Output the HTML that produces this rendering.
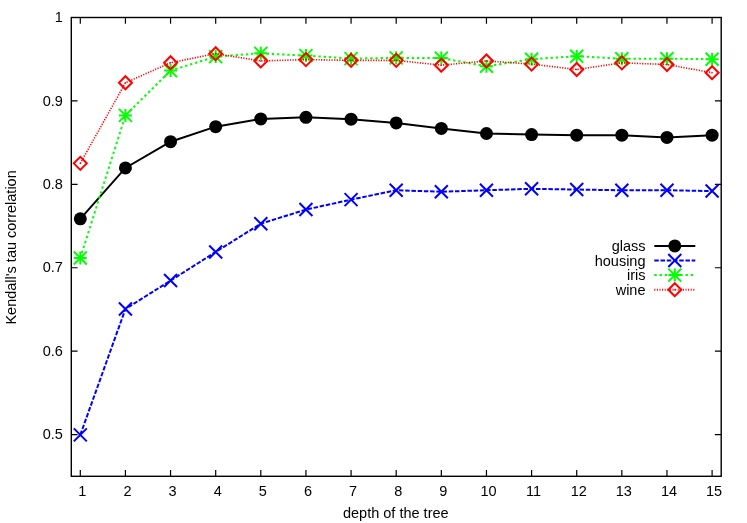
<!DOCTYPE html><html><head><meta charset="utf-8"><title>plot</title><style>html,body{margin:0;padding:0;background:#fff}svg{display:block;will-change:transform}text{font-family:"Liberation Sans",sans-serif;font-size:14.5px;fill:#000}</style></head><body>
<svg width="747" height="523" viewBox="0 0 747 523">
<rect width="747" height="523" fill="#fff"/>
<path d="M71.30 434.59H77.60M721.20 434.59H714.90M71.30 351.17H77.60M721.20 351.17H714.90M71.30 267.75H77.60M721.20 267.75H714.90M71.30 184.34H77.60M721.20 184.34H714.90M71.30 100.92H77.60M721.20 100.92H714.90M71.30 17.50H77.60M721.20 17.50H714.90M80.30 476.30V470.00M80.30 17.50V23.80M125.43 476.30V470.00M125.43 17.50V23.80M170.56 476.30V470.00M170.56 17.50V23.80M215.69 476.30V470.00M215.69 17.50V23.80M260.81 476.30V470.00M260.81 17.50V23.80M305.94 476.30V470.00M305.94 17.50V23.80M351.07 476.30V470.00M351.07 17.50V23.80M396.20 476.30V470.00M396.20 17.50V23.80M441.33 476.30V470.00M441.33 17.50V23.80M486.46 476.30V470.00M486.46 17.50V23.80M531.59 476.30V470.00M531.59 17.50V23.80M576.71 476.30V470.00M576.71 17.50V23.80M621.84 476.30V470.00M621.84 17.50V23.80M666.97 476.30V470.00M666.97 17.50V23.80M712.10 476.30V470.00M712.10 17.50V23.80" stroke="#000" stroke-width="1.20" fill="none"/>
<text x="62.9" y="439.24" text-anchor="end">0.5</text>
<text x="62.9" y="355.82" text-anchor="end">0.6</text>
<text x="62.9" y="272.40" text-anchor="end">0.7</text>
<text x="62.9" y="188.99" text-anchor="end">0.8</text>
<text x="62.9" y="105.57" text-anchor="end">0.9</text>
<text x="62.9" y="22.15" text-anchor="end">1</text>
<text x="82.30" y="496" text-anchor="middle">1</text>
<text x="127.43" y="496" text-anchor="middle">2</text>
<text x="172.56" y="496" text-anchor="middle">3</text>
<text x="217.69" y="496" text-anchor="middle">4</text>
<text x="262.81" y="496" text-anchor="middle">5</text>
<text x="307.94" y="496" text-anchor="middle">6</text>
<text x="353.07" y="496" text-anchor="middle">7</text>
<text x="398.20" y="496" text-anchor="middle">8</text>
<text x="443.33" y="496" text-anchor="middle">9</text>
<text x="488.46" y="496" text-anchor="middle">10</text>
<text x="533.59" y="496" text-anchor="middle">11</text>
<text x="578.71" y="496" text-anchor="middle">12</text>
<text x="623.84" y="496" text-anchor="middle">13</text>
<text x="668.97" y="496" text-anchor="middle">14</text>
<text x="714.10" y="496" text-anchor="middle">15</text>
<text x="395.8" y="517.9" text-anchor="middle">depth of the tree</text>
<text transform="translate(16.3 247.4) rotate(-90)" text-anchor="middle">Kendall's tau correlation</text>
<polyline points="80.30,218.84 125.43,167.95 170.56,141.68 215.69,126.66 260.81,118.90 305.94,117.32 351.07,119.15 396.20,122.91 441.33,128.41 486.46,133.50 531.59,134.59 576.71,135.17 621.84,135.17 666.97,137.42 712.10,135.17" fill="none" stroke="#000" stroke-width="2.00"/>
<circle cx="80.30" cy="218.84" r="6.50" fill="#000"/>
<circle cx="125.43" cy="167.95" r="6.50" fill="#000"/>
<circle cx="170.56" cy="141.68" r="6.50" fill="#000"/>
<circle cx="215.69" cy="126.66" r="6.50" fill="#000"/>
<circle cx="260.81" cy="118.90" r="6.50" fill="#000"/>
<circle cx="305.94" cy="117.32" r="6.50" fill="#000"/>
<circle cx="351.07" cy="119.15" r="6.50" fill="#000"/>
<circle cx="396.20" cy="122.91" r="6.50" fill="#000"/>
<circle cx="441.33" cy="128.41" r="6.50" fill="#000"/>
<circle cx="486.46" cy="133.50" r="6.50" fill="#000"/>
<circle cx="531.59" cy="134.59" r="6.50" fill="#000"/>
<circle cx="576.71" cy="135.17" r="6.50" fill="#000"/>
<circle cx="621.84" cy="135.17" r="6.50" fill="#000"/>
<circle cx="666.97" cy="137.42" r="6.50" fill="#000"/>
<circle cx="712.10" cy="135.17" r="6.50" fill="#000"/>
<polyline points="80.30,434.89 125.43,309.01 170.56,280.57 215.69,251.95 260.81,223.68 305.94,209.58 351.07,199.65 396.20,190.23 441.33,191.73 486.46,190.23 531.59,188.81 576.71,189.56 621.84,190.23 666.97,190.23 712.10,191.06" fill="none" stroke="#00f" stroke-width="2.00" stroke-dasharray="4.5 1.73"/>
<path d="M73.80 428.39L86.80 441.39M73.80 441.39L86.80 428.39" stroke="#00f" stroke-width="2.00" fill="none"/>
<path d="M118.93 302.51L131.93 315.51M118.93 315.51L131.93 302.51" stroke="#00f" stroke-width="2.00" fill="none"/>
<path d="M164.06 274.07L177.06 287.07M164.06 287.07L177.06 274.07" stroke="#00f" stroke-width="2.00" fill="none"/>
<path d="M209.19 245.45L222.19 258.45M209.19 258.45L222.19 245.45" stroke="#00f" stroke-width="2.00" fill="none"/>
<path d="M254.31 217.18L267.31 230.18M254.31 230.18L267.31 217.18" stroke="#00f" stroke-width="2.00" fill="none"/>
<path d="M299.44 203.08L312.44 216.08M299.44 216.08L312.44 203.08" stroke="#00f" stroke-width="2.00" fill="none"/>
<path d="M344.57 193.15L357.57 206.15M344.57 206.15L357.57 193.15" stroke="#00f" stroke-width="2.00" fill="none"/>
<path d="M389.70 183.73L402.70 196.73M389.70 196.73L402.70 183.73" stroke="#00f" stroke-width="2.00" fill="none"/>
<path d="M434.83 185.23L447.83 198.23M434.83 198.23L447.83 185.23" stroke="#00f" stroke-width="2.00" fill="none"/>
<path d="M479.96 183.73L492.96 196.73M479.96 196.73L492.96 183.73" stroke="#00f" stroke-width="2.00" fill="none"/>
<path d="M525.09 182.31L538.09 195.31M525.09 195.31L538.09 182.31" stroke="#00f" stroke-width="2.00" fill="none"/>
<path d="M570.21 183.06L583.21 196.06M570.21 196.06L583.21 183.06" stroke="#00f" stroke-width="2.00" fill="none"/>
<path d="M615.34 183.73L628.34 196.73M615.34 196.73L628.34 183.73" stroke="#00f" stroke-width="2.00" fill="none"/>
<path d="M660.47 183.73L673.47 196.73M660.47 196.73L673.47 183.73" stroke="#00f" stroke-width="2.00" fill="none"/>
<path d="M705.60 184.56L718.60 197.56M705.60 197.56L718.60 184.56" stroke="#00f" stroke-width="2.00" fill="none"/>
<polyline points="80.30,257.96 125.43,115.40 170.56,70.60 215.69,56.59 260.81,53.34 305.94,55.59 351.07,58.59 396.20,57.84 441.33,58.09 486.46,66.27 531.59,59.18 576.71,56.17 621.84,58.67 666.97,58.67 712.10,59.18" fill="none" stroke="#0f0" stroke-width="2.00" stroke-dasharray="2.4 2.79"/>
<path d="M73.80 251.46L86.80 264.46M73.80 264.46L86.80 251.46" stroke="#0f0" stroke-width="2.00" fill="none"/><path d="M73.80 257.96L86.80 257.96M80.30 251.46L80.30 264.46" stroke="#0f0" stroke-width="2.00" fill="none"/>
<path d="M118.93 108.90L131.93 121.90M118.93 121.90L131.93 108.90" stroke="#0f0" stroke-width="2.00" fill="none"/><path d="M118.93 115.40L131.93 115.40M125.43 108.90L125.43 121.90" stroke="#0f0" stroke-width="2.00" fill="none"/>
<path d="M164.06 64.10L177.06 77.10M164.06 77.10L177.06 64.10" stroke="#0f0" stroke-width="2.00" fill="none"/><path d="M164.06 70.60L177.06 70.60M170.56 64.10L170.56 77.10" stroke="#0f0" stroke-width="2.00" fill="none"/>
<path d="M209.19 50.09L222.19 63.09M209.19 63.09L222.19 50.09" stroke="#0f0" stroke-width="2.00" fill="none"/><path d="M209.19 56.59L222.19 56.59M215.69 50.09L215.69 63.09" stroke="#0f0" stroke-width="2.00" fill="none"/>
<path d="M254.31 46.84L267.31 59.84M254.31 59.84L267.31 46.84" stroke="#0f0" stroke-width="2.00" fill="none"/><path d="M254.31 53.34L267.31 53.34M260.81 46.84L260.81 59.84" stroke="#0f0" stroke-width="2.00" fill="none"/>
<path d="M299.44 49.09L312.44 62.09M299.44 62.09L312.44 49.09" stroke="#0f0" stroke-width="2.00" fill="none"/><path d="M299.44 55.59L312.44 55.59M305.94 49.09L305.94 62.09" stroke="#0f0" stroke-width="2.00" fill="none"/>
<path d="M344.57 52.09L357.57 65.09M344.57 65.09L357.57 52.09" stroke="#0f0" stroke-width="2.00" fill="none"/><path d="M344.57 58.59L357.57 58.59M351.07 52.09L351.07 65.09" stroke="#0f0" stroke-width="2.00" fill="none"/>
<path d="M389.70 51.34L402.70 64.34M389.70 64.34L402.70 51.34" stroke="#0f0" stroke-width="2.00" fill="none"/><path d="M389.70 57.84L402.70 57.84M396.20 51.34L396.20 64.34" stroke="#0f0" stroke-width="2.00" fill="none"/>
<path d="M434.83 51.59L447.83 64.59M434.83 64.59L447.83 51.59" stroke="#0f0" stroke-width="2.00" fill="none"/><path d="M434.83 58.09L447.83 58.09M441.33 51.59L441.33 64.59" stroke="#0f0" stroke-width="2.00" fill="none"/>
<path d="M479.96 59.77L492.96 72.77M479.96 72.77L492.96 59.77" stroke="#0f0" stroke-width="2.00" fill="none"/><path d="M479.96 66.27L492.96 66.27M486.46 59.77L486.46 72.77" stroke="#0f0" stroke-width="2.00" fill="none"/>
<path d="M525.09 52.68L538.09 65.68M525.09 65.68L538.09 52.68" stroke="#0f0" stroke-width="2.00" fill="none"/><path d="M525.09 59.18L538.09 59.18M531.59 52.68L531.59 65.68" stroke="#0f0" stroke-width="2.00" fill="none"/>
<path d="M570.21 49.67L583.21 62.67M570.21 62.67L583.21 49.67" stroke="#0f0" stroke-width="2.00" fill="none"/><path d="M570.21 56.17L583.21 56.17M576.71 49.67L576.71 62.67" stroke="#0f0" stroke-width="2.00" fill="none"/>
<path d="M615.34 52.17L628.34 65.17M615.34 65.17L628.34 52.17" stroke="#0f0" stroke-width="2.00" fill="none"/><path d="M615.34 58.67L628.34 58.67M621.84 52.17L621.84 65.17" stroke="#0f0" stroke-width="2.00" fill="none"/>
<path d="M660.47 52.17L673.47 65.17M660.47 65.17L673.47 52.17" stroke="#0f0" stroke-width="2.00" fill="none"/><path d="M660.47 58.67L673.47 58.67M666.97 52.17L666.97 65.17" stroke="#0f0" stroke-width="2.00" fill="none"/>
<path d="M705.60 52.68L718.60 65.68M705.60 65.68L718.60 52.68" stroke="#0f0" stroke-width="2.00" fill="none"/><path d="M705.60 59.18L718.60 59.18M712.10 52.68L712.10 65.68" stroke="#0f0" stroke-width="2.00" fill="none"/>
<polyline points="80.30,163.36 125.43,82.78 170.56,62.68 215.69,53.67 260.81,60.93 305.94,59.59 351.07,60.34 396.20,60.34 441.33,65.18 486.46,60.93 531.59,64.10 576.71,69.52 621.84,62.85 666.97,64.51 712.10,72.69" fill="none" stroke="#f00" stroke-width="1.60" stroke-dasharray="1.2 1.4"/>
<path d="M80.30 169.86L73.80 163.36L80.30 156.86L86.80 163.36Z" stroke="#f00" stroke-width="2.00" fill="none"/><circle cx="80.30" cy="163.36" r="0.8" fill="#f00"/>
<path d="M125.43 89.28L118.93 82.78L125.43 76.28L131.93 82.78Z" stroke="#f00" stroke-width="2.00" fill="none"/><circle cx="125.43" cy="82.78" r="0.8" fill="#f00"/>
<path d="M170.56 69.18L164.06 62.68L170.56 56.18L177.06 62.68Z" stroke="#f00" stroke-width="2.00" fill="none"/><circle cx="170.56" cy="62.68" r="0.8" fill="#f00"/>
<path d="M215.69 60.17L209.19 53.67L215.69 47.17L222.19 53.67Z" stroke="#f00" stroke-width="2.00" fill="none"/><circle cx="215.69" cy="53.67" r="0.8" fill="#f00"/>
<path d="M260.81 67.43L254.31 60.93L260.81 54.43L267.31 60.93Z" stroke="#f00" stroke-width="2.00" fill="none"/><circle cx="260.81" cy="60.93" r="0.8" fill="#f00"/>
<path d="M305.94 66.09L299.44 59.59L305.94 53.09L312.44 59.59Z" stroke="#f00" stroke-width="2.00" fill="none"/><circle cx="305.94" cy="59.59" r="0.8" fill="#f00"/>
<path d="M351.07 66.84L344.57 60.34L351.07 53.84L357.57 60.34Z" stroke="#f00" stroke-width="2.00" fill="none"/><circle cx="351.07" cy="60.34" r="0.8" fill="#f00"/>
<path d="M396.20 66.84L389.70 60.34L396.20 53.84L402.70 60.34Z" stroke="#f00" stroke-width="2.00" fill="none"/><circle cx="396.20" cy="60.34" r="0.8" fill="#f00"/>
<path d="M441.33 71.68L434.83 65.18L441.33 58.68L447.83 65.18Z" stroke="#f00" stroke-width="2.00" fill="none"/><circle cx="441.33" cy="65.18" r="0.8" fill="#f00"/>
<path d="M486.46 67.43L479.96 60.93L486.46 54.43L492.96 60.93Z" stroke="#f00" stroke-width="2.00" fill="none"/><circle cx="486.46" cy="60.93" r="0.8" fill="#f00"/>
<path d="M531.59 70.60L525.09 64.10L531.59 57.60L538.09 64.10Z" stroke="#f00" stroke-width="2.00" fill="none"/><circle cx="531.59" cy="64.10" r="0.8" fill="#f00"/>
<path d="M576.71 76.02L570.21 69.52L576.71 63.02L583.21 69.52Z" stroke="#f00" stroke-width="2.00" fill="none"/><circle cx="576.71" cy="69.52" r="0.8" fill="#f00"/>
<path d="M621.84 69.35L615.34 62.85L621.84 56.35L628.34 62.85Z" stroke="#f00" stroke-width="2.00" fill="none"/><circle cx="621.84" cy="62.85" r="0.8" fill="#f00"/>
<path d="M666.97 71.01L660.47 64.51L666.97 58.01L673.47 64.51Z" stroke="#f00" stroke-width="2.00" fill="none"/><circle cx="666.97" cy="64.51" r="0.8" fill="#f00"/>
<path d="M712.10 79.19L705.60 72.69L712.10 66.19L718.60 72.69Z" stroke="#f00" stroke-width="2.00" fill="none"/><circle cx="712.10" cy="72.69" r="0.8" fill="#f00"/>
<text x="645.5" y="250.95" text-anchor="end">glass</text>
<text x="645.5" y="265.55" text-anchor="end">housing</text>
<text x="645.5" y="280.15" text-anchor="end">iris</text>
<text x="645.5" y="294.75" text-anchor="end">wine</text>
<path d="M654.30 245.90H695.30" stroke="#000" stroke-width="2.00" fill="none"/><circle cx="674.80" cy="245.90" r="6.50" fill="#000"/>
<path d="M654.30 260.50H695.30" stroke="#00f" stroke-width="2.00" fill="none" stroke-dasharray="4.5 1.73"/><path d="M668.30 254.00L681.30 267.00M668.30 267.00L681.30 254.00" stroke="#00f" stroke-width="2.00" fill="none"/>
<path d="M654.30 275.10H695.30" stroke="#0f0" stroke-width="2.00" fill="none" stroke-dasharray="2.4 2.79"/><path d="M668.30 268.60L681.30 281.60M668.30 281.60L681.30 268.60" stroke="#0f0" stroke-width="2.00" fill="none"/><path d="M668.30 275.10L681.30 275.10M674.80 268.60L674.80 281.60" stroke="#0f0" stroke-width="2.00" fill="none"/>
<path d="M654.30 289.70H695.30" stroke="#f00" stroke-width="2.00" fill="none" stroke-dasharray="1.04 1.56"/><path d="M674.80 296.20L668.30 289.70L674.80 283.20L681.30 289.70Z" stroke="#f00" stroke-width="2.00" fill="none"/><circle cx="674.80" cy="289.70" r="0.8" fill="#f00"/>
<rect x="71.30" y="17.50" width="649.90" height="458.80" fill="none" stroke="#000" stroke-width="1.4"/>
</svg></body></html>
